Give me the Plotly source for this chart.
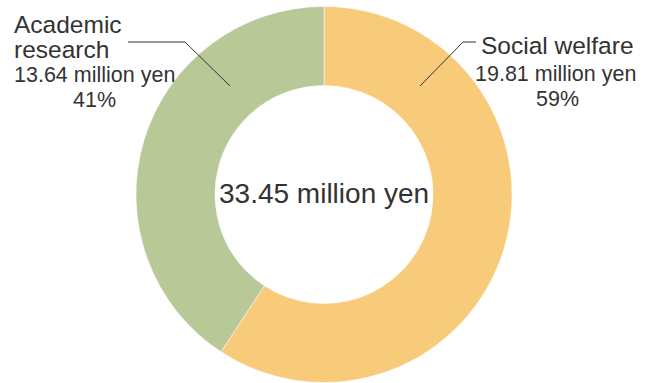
import plotly.graph_objects as go

W, H = 653, 383

categories = ["Social welfare", "Academic research"]
values = [19.81, 13.64]          # million yen
percents = ["59%", "41%"]
colors = ["#F8CB7B", "#B8C897"]
total_label = "33.45 million yen"

# donut geometry (pixels)
cx, cy, R = 324, 194.5, 188

def px(x):
    return x / W

def py(y):
    return 1 - y / H

fig = go.Figure(go.Pie(
    labels=categories,
    values=values,
    marker=dict(colors=colors, line=dict(color="white", width=0.5)),
    hole=0.58,
    sort=False,
    direction="clockwise",
    rotation=0,
    textinfo="none",
    hoverinfo="label+value+percent",
    showlegend=False,
    domain=dict(x=[px(cx - R), px(cx + R)], y=[py(cy + R), py(cy - R)]),
))

font = "Liberation Sans, Arial, sans-serif"
tc = "#333333"

def mid(baseline, size):
    return baseline - 0.3465 * size

ann = []
def add(text, x, baseline, size, anchor):
    ann.append(dict(text=text, x=px(x), y=py(mid(baseline, size)), xref="paper", yref="paper",
                    xanchor=anchor, yanchor="middle", showarrow=False,
                    font=dict(family=font, size=size, color=tc)))

name_size = 24.5
val_size = 21.5
# left label (Academic research)
add("Academic", 12, 32.5, name_size, "left")
add("research", 12, 58, name_size, "left")
add(f"{values[1]:.2f} million yen", 94, 82.5, val_size, "center")
add(percents[1], 94, 107, val_size, "center")
# right label (Social welfare)
add(categories[0], 557, 54.3, name_size, "center")
add(f"{values[0]:.2f} million yen", 555, 81.7, val_size, "center")
add(percents[0], 557, 106.7, val_size, "center")
# center total
add(total_label, cx, 203, 28, "center")

line = dict(color="#333333", width=1)
shapes = [
    dict(type="path", xref="paper", yref="paper",
         path=f"M {px(128)},{py(42)} L {px(185)},{py(42)} L {px(230)},{py(86)}", line=line),
    dict(type="path", xref="paper", yref="paper",
         path=f"M {px(420)},{py(86)} L {px(463)},{py(42)} L {px(476)},{py(42)}", line=line),
]

fig.update_layout(
    width=W, height=H,
    margin=dict(l=0, r=0, t=0, b=0),
    paper_bgcolor="white", plot_bgcolor="white",
    annotations=ann, shapes=shapes,
)

fig.write_html("out.html")
